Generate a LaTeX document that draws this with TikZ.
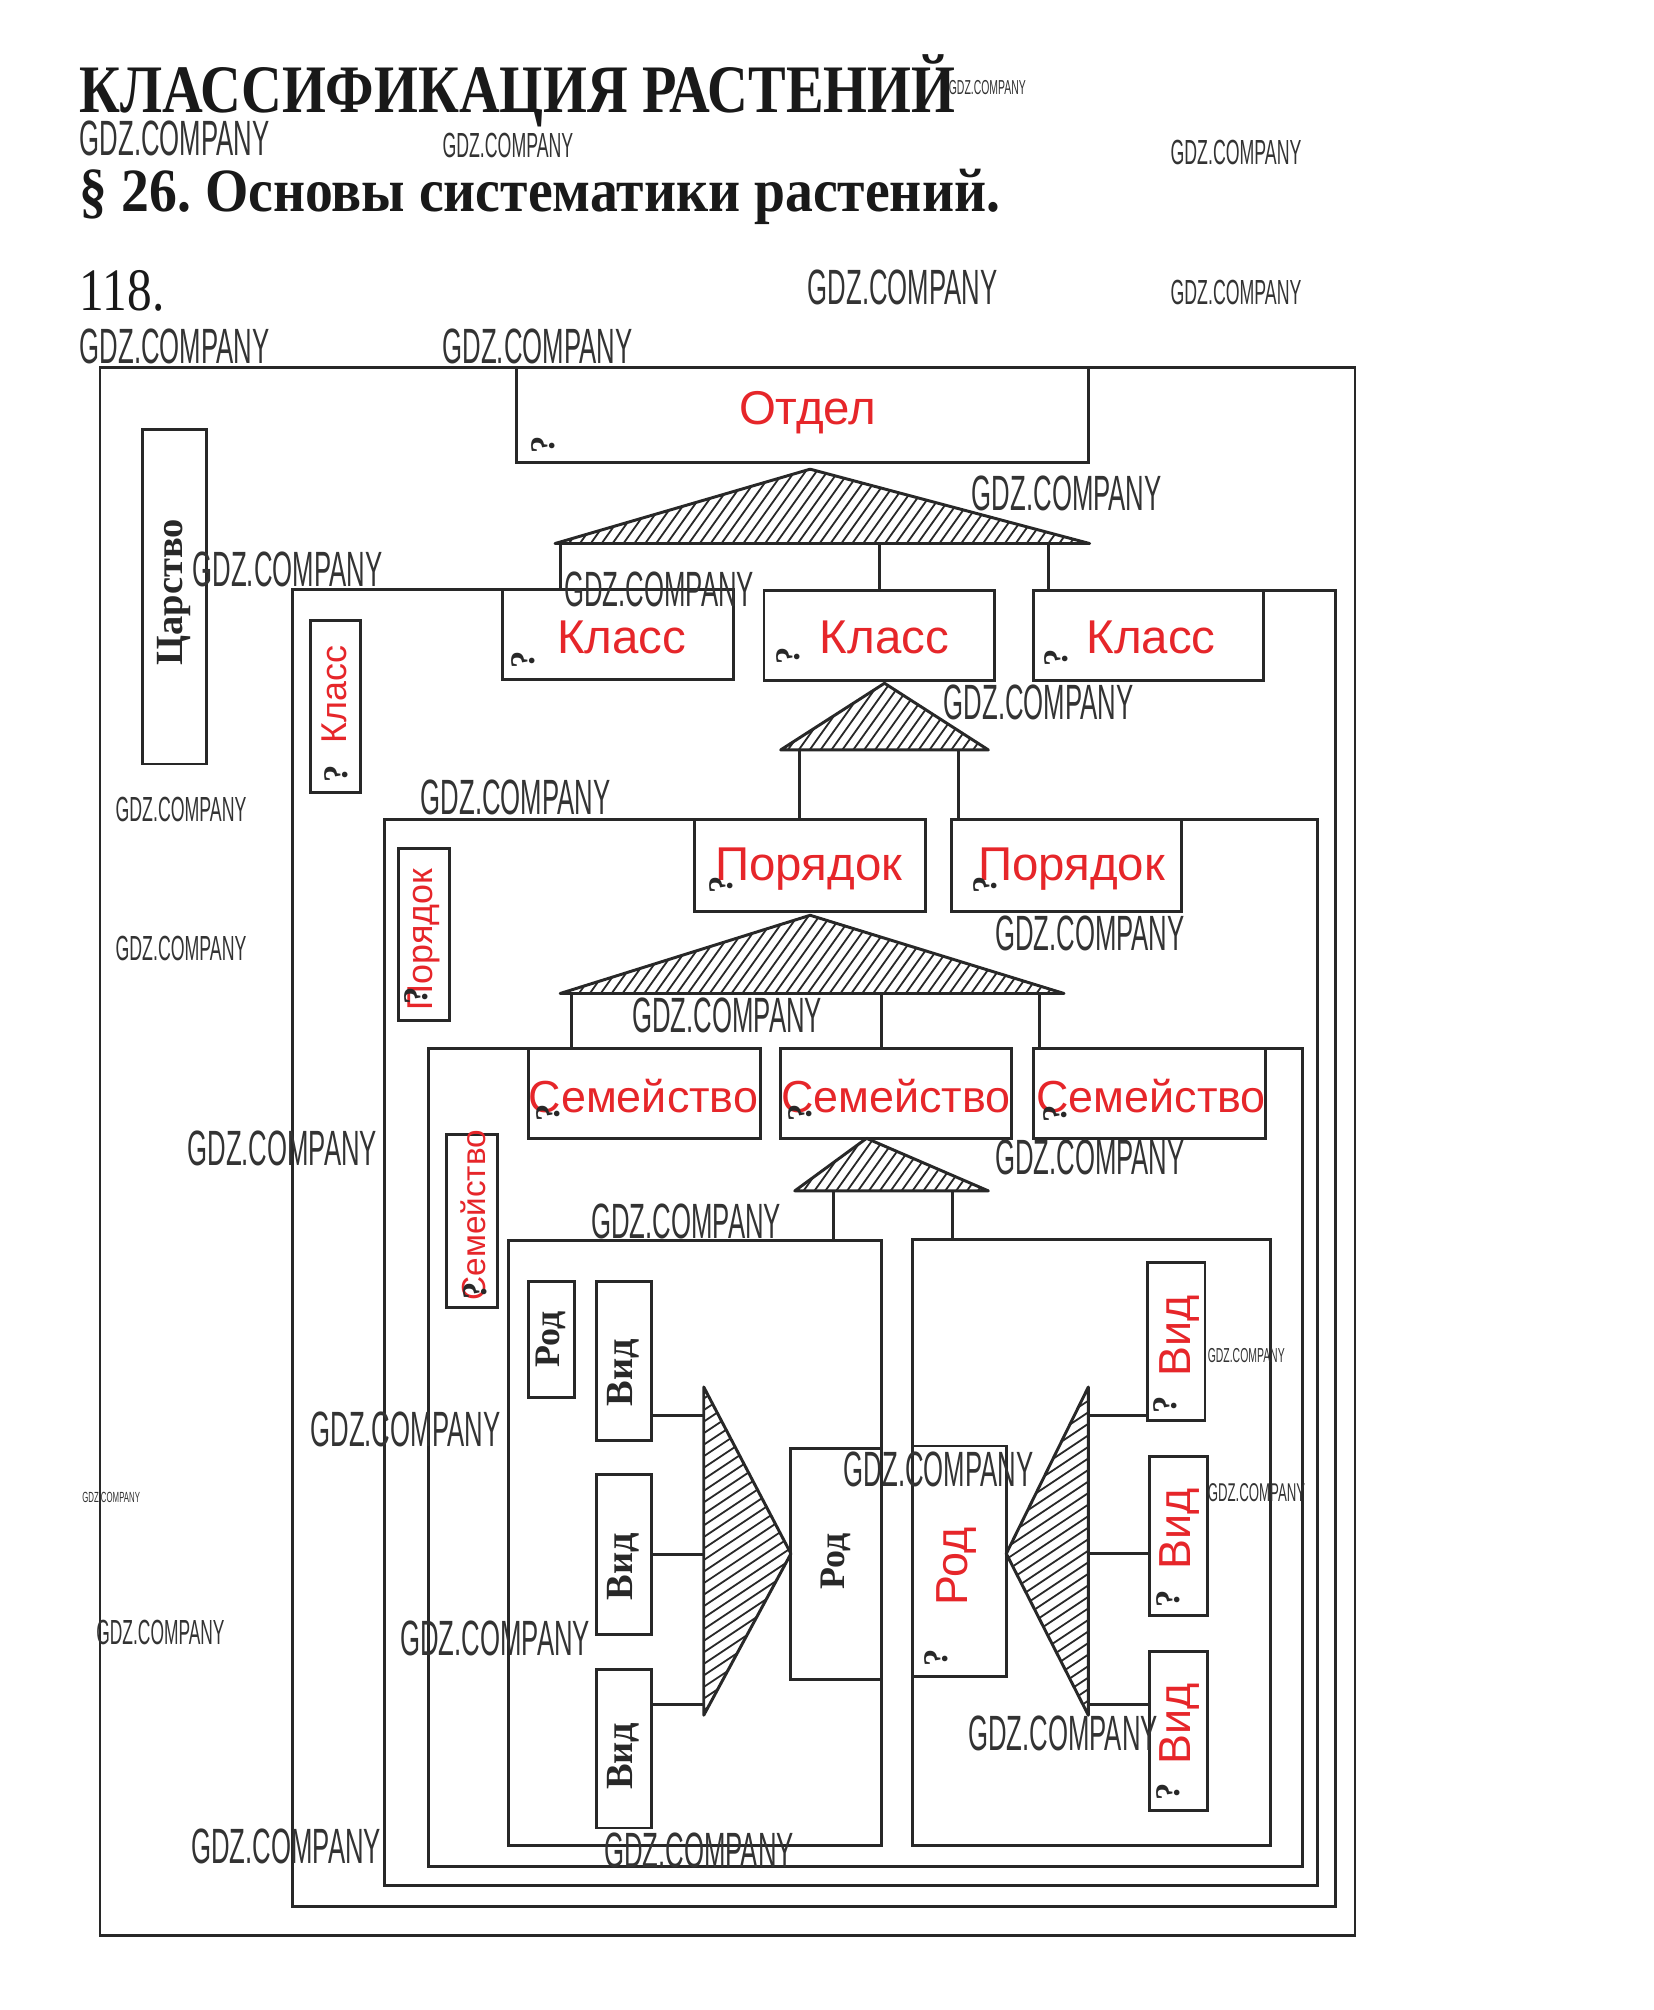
\documentclass[tikz,border=0pt]{standalone}
\usepackage{fontspec}
\usepackage{graphicx}
\setmainfont{Liberation Serif}
\newfontfamily\arsf{Liberation Sans}
\definecolor{myred}{RGB}{230,38,42}
\definecolor{ink}{RGB}{40,40,40}
\newcommand\wmtext[2]{\resizebox{#1pt}{#2pt}{GDZ.COMPANY}}
\frenchspacing
\begin{document}
\begin{tikzpicture}[x=1pt,y=-1pt,
  frame/.style={draw=ink,line width=2.3pt},
  box/.style={draw=ink,line width=2.3pt,inner sep=0,outer sep=0},
  conn/.style={draw=ink,line width=2.3pt},
  tri/.style={draw=ink,line width=2.3pt,line join=round},
  hatchline/.style={draw=ink,line width=1.4pt},
  redlbl/.style={text=myred,font=\arsf\fontsize{37}{37}\selectfont,inner sep=0},
  redsem/.style={text=myred,font=\arsf\fontsize{35}{35}\selectfont,inner sep=0},
  redv/.style={text=myred,font=\arsf\fontsize{28}{28}\selectfont,inner sep=0,rotate=90},
  redvb/.style={text=myred,font=\arsf\fontsize{35}{35}\selectfont,inner sep=0,rotate=90},
  blkv/.style={text=ink,font=\bfseries\fontsize{30}{30}\selectfont,inner sep=0,rotate=90},
  qm/.style={text=ink,font=\bfseries\fontsize{27}{27}\selectfont,inner sep=0,rotate=90},
  wm/.style={text=black!80,font=\arsf,inner sep=0,anchor=base west},
  hdr/.style={inner sep=0,anchor=base west,text=black!90}
]
\useasboundingbox (0,0) rectangle (1290,1568);
\fill[white] (0,0) rectangle (1290,1568);

% ---------- header ----------
\node[hdr] (title) at (62,88) {\resizebox{683pt}{\height}{\bfseries\fontsize{53}{53}\selectfont КЛАССИФИКАЦИЯ РАСТЕНИЙ}};
\node[hdr] (subtitle) at (62,165) {\resizebox{718pt}{\height}{\bfseries\fontsize{48}{48}\selectfont § 26. Основы систематики растений.}};
\node[hdr] (number) at (62,242) {\resizebox{66pt}{\height}{\fontsize{47}{47}\selectfont 118.}};

% ---------- boxes ----------
\node[box,minimum width=446,minimum height=74] (otdel) at (626,324) {};
\node[box,minimum width=50,minimum height=261] (carstvo) at (136,465.5) {};
\node[box,minimum width=180,minimum height=70] (k1) at (482,495) {};
\node[box,minimum width=180,minimum height=70] (k2) at (686,496) {};
\node[box,minimum width=180,minimum height=70] (k3) at (896,496) {};
\node[box,minimum width=39,minimum height=134] (kv) at (261.5,551) {};
\node[box,minimum width=180,minimum height=72] (p1) at (632,675) {};
\node[box,minimum width=180,minimum height=72] (p2) at (832,675) {};
\node[box,minimum width=40,minimum height=134] (pv) at (331,729) {};
\node[box,minimum width=181,minimum height=70] (s1) at (502.5,853) {};
\node[box,minimum width=180,minimum height=70] (s2) at (699,853) {};
\node[box,minimum width=181,minimum height=70] (s3) at (896.5,853) {};
\node[box,minimum width=40,minimum height=135] (sv) at (368,952.5) {};
% left genus frame
\node[box,minimum width=291,minimum height=472] (rodL) at (542.5,1204) {};
\node[box,minimum width=36,minimum height=90] (rodsmall) at (430,1045) {};
\node[box,minimum width=43,minimum height=124] (lv1) at (486.5,1062) {};
\node[box,minimum width=43,minimum height=125] (lv2) at (486.5,1212.5) {};
\node[box,minimum width=43,minimum height=124] (lv3) at (486.5,1364) {};
\node[box,minimum width=71,minimum height=180] (rodLbig) at (652.5,1220) {};
% right genus frame
\node[box,minimum width=279,minimum height=473] (rodR) at (851.5,1203.5) {};
\node[box,minimum width=73,minimum height=180] (rodRbig) at (748.5,1218) {};
\node[box,minimum width=45,minimum height=123] (rv1) at (917.5,1046.5) {};
\node[box,minimum width=45,minimum height=124] (rv2) at (919.5,1198) {};
\node[box,minimum width=45,minimum height=124] (rv3) at (919.5,1350) {};

% ---------- frames ----------
\draw[frame] (otdel.north west) -- (78,287) -- (78,1510) -- (1057,1510) -- (1057,287) -- (otdel.north east);
\draw[frame] (k1.north west) -- (228,460) -- (228,1487) -- (1042,1487) -- (1042,461) -- (k3.north east);
\draw[frame] (p1.north west) -- (300,639) -- (300,1471) -- (1028,1471) -- (1028,639) -- (p2.north east);
\draw[frame] (s1.north west) -- (334,818) -- (334,1456) -- (1016,1456) -- (1016,818) -- (s3.north east);

% ---------- hatched triangles ----------
% T1
\coordinate (t1l) at (433,424); \coordinate (t1t) at (632,366); \coordinate (t1r) at (850,424);
\begin{scope}
\clip (t1l) -- (t1t) -- (t1r) -- cycle;
\foreach \k in {380,388.5,...,880} \draw[hatchline] (\k,430) -- ++(50,-70);
\end{scope}
\draw[tri] (t1l) -- (t1t) -- (t1r) -- cycle;
% T2
\coordinate (t2l) at (609,585); \coordinate (t2t) at (690,533); \coordinate (t2r) at (771,585);
\begin{scope}
\clip (t2l) -- (t2t) -- (t2r) -- cycle;
\foreach \k in {560,568.5,...,790} \draw[hatchline] (\k,590) -- ++(45,-63);
\end{scope}
\draw[tri] (t2l) -- (t2t) -- (t2r) -- cycle;
% T3
\coordinate (t3l) at (437,775); \coordinate (t3t) at (632,714); \coordinate (t3r) at (830,775);
\begin{scope}
\clip (t3l) -- (t3t) -- (t3r) -- cycle;
\foreach \k in {380,388.5,...,860} \draw[hatchline] (\k,780) -- ++(50,-70);
\end{scope}
\draw[tri] (t3l) -- (t3t) -- (t3r) -- cycle;
% T4
\coordinate (t4l) at (620,929); \coordinate (t4t) at (676,888); \coordinate (t4r) at (771,929);
\begin{scope}
\clip (t4l) -- (t4t) -- (t4r) -- cycle;
\foreach \k in {580,588.5,...,790} \draw[hatchline] (\k,935) -- ++(40,-56);
\end{scope}
\draw[tri] (t4l) -- (t4t) -- (t4r) -- cycle;
% T5 (left genus)
\coordinate (t5a) at (549,1082); \coordinate (t5b) at (549,1338); \coordinate (t5c) at (617,1212);
\begin{scope}
\clip (t5a) -- (t5c) -- (t5b) -- cycle;
\foreach \k in {1070,1079,...,1400} \draw[hatchline] (540,\k) -- ++(90,-60);
\end{scope}
\draw[tri] (t5a) -- (t5c) -- (t5b) -- cycle;
% T6 (right genus)
\coordinate (t6a) at (849,1082); \coordinate (t6b) at (849,1338); \coordinate (t6c) at (785,1212);
\begin{scope}
\clip (t6a) -- (t6c) -- (t6b) -- cycle;
\foreach \k in {1070,1079,...,1400} \draw[hatchline] (775,\k) -- ++(90,-60);
\end{scope}
\draw[tri] (t6a) -- (t6c) -- (t6b) -- cycle;

% ---------- connectors ----------
\coordinate (c11) at (437,424); \coordinate (c12) at (686,424); \coordinate (c13) at (818,424);
\draw[conn] (c11) -- (c11 |- k1.north);
\draw[conn] (c12) -- (c12 |- k2.north);
\draw[conn] (c13) -- (c13 |- k3.north);
\coordinate (c21) at (624,585); \coordinate (c22) at (748,585);
\draw[conn] (c21) -- (c21 |- p1.north);
\draw[conn] (c22) -- (c22 |- p2.north);
\coordinate (c31) at (446,775); \coordinate (c32) at (688,775); \coordinate (c33) at (811,775);
\draw[conn] (c31) -- (c31 |- s1.north);
\draw[conn] (c32) -- (c32 |- s2.north);
\draw[conn] (c33) -- (c33 |- s3.north);
\coordinate (c41) at (650,929); \coordinate (c42) at (743,929);
\draw[conn] (c41) -- (c41 |- rodL.north);
\draw[conn] (c42) -- (c42 |- rodR.north);
\coordinate (c51) at (549,1104); \coordinate (c52) at (549,1213); \coordinate (c53) at (549,1330);
\draw[conn] (lv1.east |- c51) -- (c51);
\draw[conn] (lv2.east |- c52) -- (c52);
\draw[conn] (lv3.east |- c53) -- (c53);
\coordinate (c61) at (849,1104); \coordinate (c62) at (849,1212); \coordinate (c63) at (849,1330);
\draw[conn] (c61) -- (c61 -| rv1.west);
\draw[conn] (c62) -- (c62 -| rv2.west);
\draw[conn] (c63) -- (c63 -| rv3.west);

% ---------- labels ----------
\node[redlbl] (otdelT) at (630,322) {Отдел};
\node[redlbl] (k1T) at (485,497) {Класс};
\node[redlbl] (k2T) at (690,497) {Класс};
\node[redlbl] (k3T) at (898,497) {Класс};
\node[redlbl] (p1T) at (631,678) {Порядок};
\node[redlbl] (p2T) at (836,678) {Порядок};
\node[redsem] (s1T) at (502,855) {Семейство};
\node[redsem] (s2T) at (699,855) {Семейство};
\node[redsem] (s3T) at (898,855) {Семейство};
\node[redv] (kvT) at (261,542) {Класс};
\node[redv] (pvT) at (331,733) {Порядок};
\node[redv,font=\arsf\fontsize{26}{26}\selectfont] (svT) at (369,948) {Семейство};
\node[redvb] (rv1T) at (920,1042) {Вид};
\node[redvb] (rv2T) at (920,1193) {Вид};
\node[redvb] (rv3T) at (920,1345) {Вид};
\node[redvb] (rodRT) at (746,1222) {Род};
\node[blkv] (carstvoT) at (136,462) {Царство};
\node[blkv] (lv1T) at (486,1071) {Вид};
\node[blkv] (lv2T) at (486,1222) {Вид};
\node[blkv] (lv3T) at (486,1370) {Вид};
\node[blkv,font=\bfseries\fontsize{28}{28}\selectfont] (rodsmallT) at (430,1045) {Род};
\node[blkv,font=\bfseries\fontsize{28}{28}\selectfont] (rodLbigT) at (652,1218) {Род};

% question marks
\node[qm] (q1) at (424,347) {?};
\node[qm] (q2) at (408,515) {?};
\node[qm] (q3) at (615,512) {?};
\node[qm] (q4) at (824,513) {?};
\node[qm] (q5) at (563,690) {?};
\node[qm] (q6) at (769,690) {?};
\node[qm] (q7) at (428,868) {?};
\node[qm] (q8) at (624,868) {?};
\node[qm] (q9) at (823,869) {?};
\node[qm] (q10) at (262,604) {?};
\node[qm] (q11) at (325,777) {?};
\node[qm] (q12) at (371,1007) {?};
\node[qm] (q13) at (909,1096) {?};
\node[qm] (q14) at (911,1247) {?};
\node[qm] (q15) at (911,1398) {?};
\node[qm] (q16) at (730,1293) {?};

% ---------- watermarks ----------
\node[wm] (wm1) at (740,73.5) {\wmtext{60}{11}};
\node[wm] (wm2) at (62,121) {\wmtext{148}{27}};
\node[wm] (wm3) at (345,122.5) {\wmtext{102}{19}};
\node[wm] (wm4) at (913,128.5) {\wmtext{102}{19}};
\node[wm] (wm5) at (630,237.5) {\wmtext{148}{27}};
\node[wm] (wm6) at (913,237.5) {\wmtext{102}{19}};
\node[wm] (wm7) at (62,283.5) {\wmtext{148}{27}};
\node[wm] (wm8) at (345,283.5) {\wmtext{148}{27}};
\node[wm] (wm9) at (758,398.5) {\wmtext{148}{27}};
\node[wm] (wm10) at (150,457.5) {\wmtext{148}{27}};
\node[wm] (wm11) at (440,473.5) {\wmtext{148}{27}};
\node[wm] (wm12) at (736,561.5) {\wmtext{148}{27}};
\node[wm] (wm13) at (90,640.5) {\wmtext{102}{19}};
\node[wm] (wm14) at (328,635.5) {\wmtext{148}{27}};
\node[wm] (wm15) at (776,741.5) {\wmtext{148}{27}};
\node[wm] (wm16) at (90,749.5) {\wmtext{102}{19}};
\node[wm] (wm17) at (493,805.5) {\wmtext{148}{27}};
\node[wm] (wm18) at (146,909.5) {\wmtext{148}{27}};
\node[wm] (wm19) at (776,916.5) {\wmtext{148}{27}};
\node[wm] (wm20) at (461,966.5) {\wmtext{148}{27}};
\node[wm] (wm21) at (942,1062.5) {\wmtext{60}{11}};
\node[wm] (wm22) at (242,1128.5) {\wmtext{148}{27}};
\node[wm] (wm23) at (658,1159.5) {\wmtext{148}{27}};
\node[wm] (wm24) at (942,1171) {\wmtext{76}{14}};
\node[wm] (wm25) at (64,1172) {\wmtext{45}{8}};
\node[wm] (wm26) at (75,1282.5) {\wmtext{100}{19}};
\node[wm] (wm27) at (312,1291.5) {\wmtext{148}{27}};
\node[wm] (wm28) at (755,1365.5) {\wmtext{148}{27}};
\node[wm] (wm29) at (149,1453.5) {\wmtext{148}{27}};
\node[wm] (wm30) at (471,1456.5) {\wmtext{148}{27}};
\end{tikzpicture}
\end{document}
